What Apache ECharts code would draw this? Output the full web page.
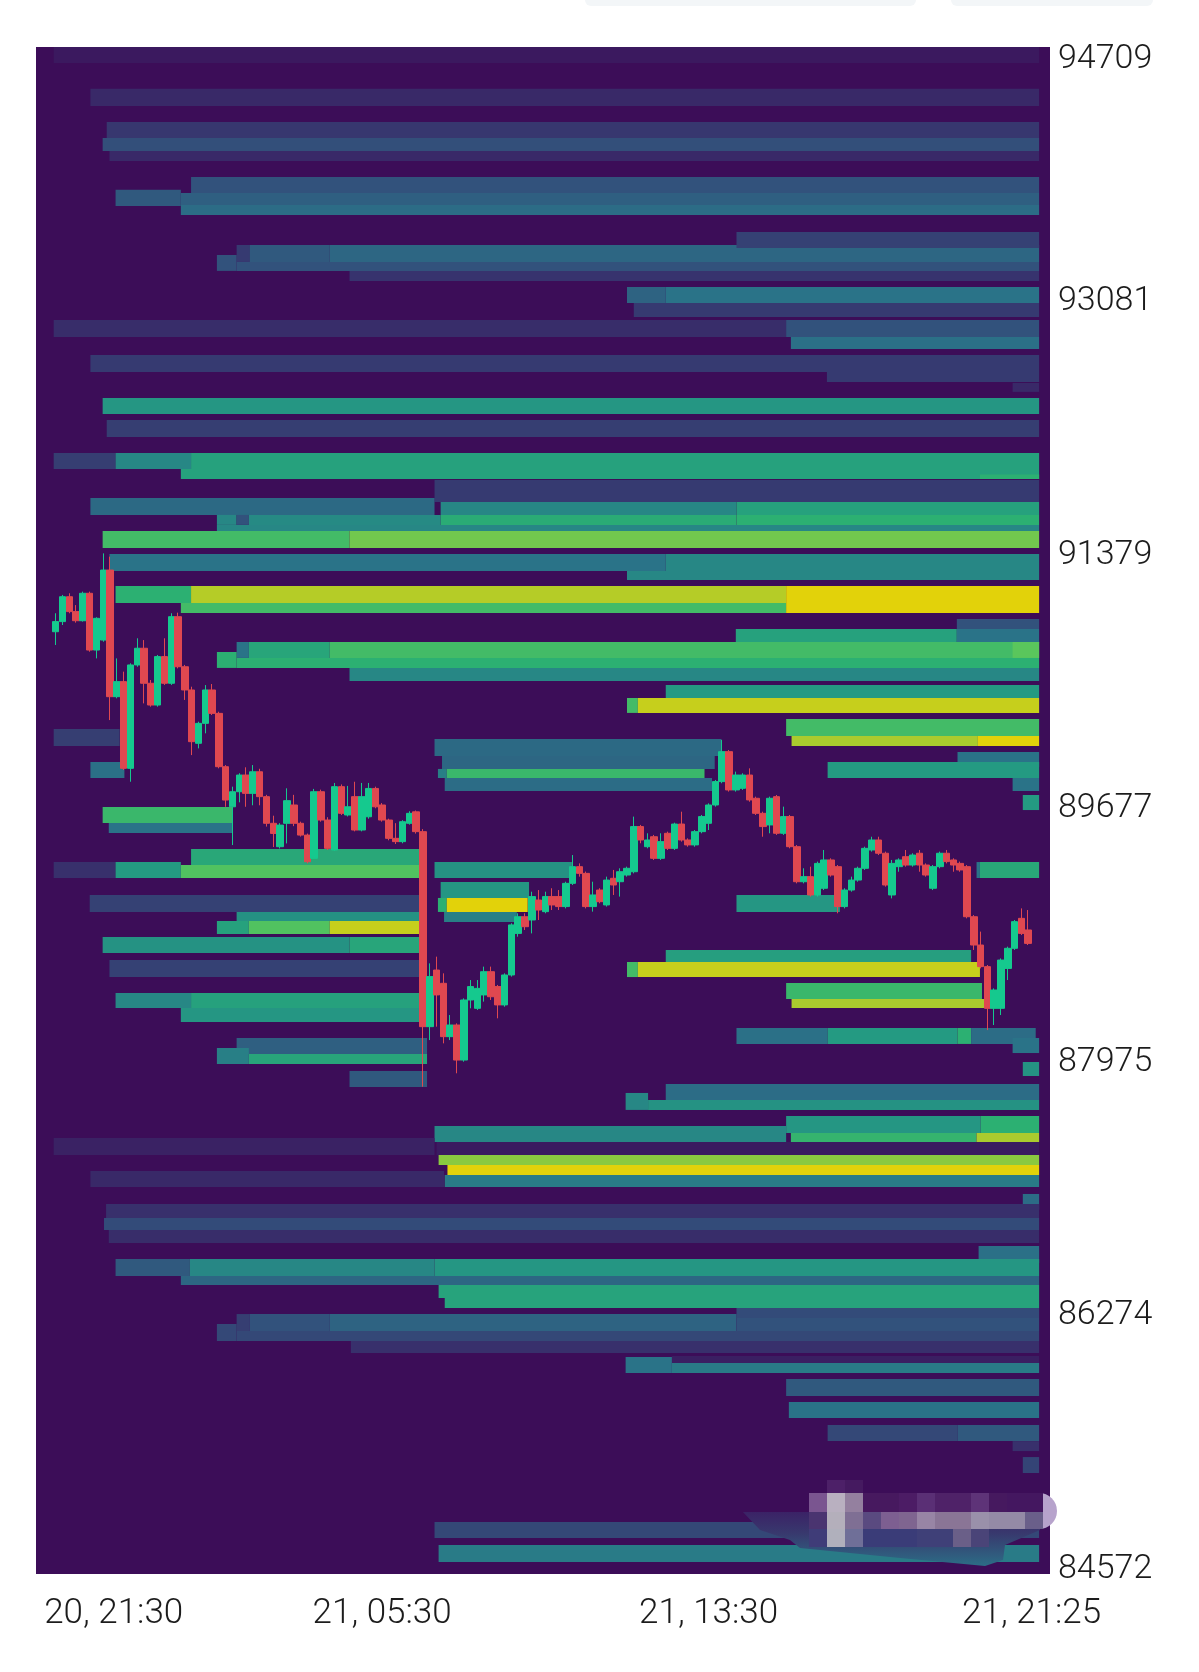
<!DOCTYPE html>
<html>
<head>
<meta charset="utf-8">
<title>Liquidation heatmap</title>
<script src="https://cdn.jsdelivr.net/npm/echarts@6/dist/echarts.min.js"></script>
<style>
    html, body { margin: 0; padding: 0; background: #fff; }
    #chart { width: 1199px; height: 1672px; }
</style>
</head>
<body>
<div id="chart"></div>
<script>
// x is minutes since 20, 21:30. bands: [from, to, priceLow, priceHigh, level 0-8]
const upperBands = [
    [-3, 1446, 94663, 94770, 0.35],
    [51, 1446, 94374, 94489, 0.8],
    [75, 1446, 94160, 94267, 1.2],
    [69, 1446, 94072, 94160, 1.9],
    [79, 1446, 94005, 94072, 0.8],
    [199, 1446, 93790, 93898, 2],
    [88, 184, 93703, 93811, 2.2],
    [184, 1446, 93710, 93790, 2.4],
    [184, 1446, 93643, 93710, 2.8],
    [266, 285, 93327, 93441, 1.3],
    [285, 403, 93327, 93441, 2.2],
    [403, 1446, 93327, 93441, 2.6],
    [1001, 1446, 93421, 93529, 1.5],
    [237, 266, 93267, 93374, 2],
    [266, 1446, 93267, 93327, 2],
    [432, 1446, 93200, 93267, 1.1],
    [840, 897, 93052, 93159, 2.5],
    [897, 1446, 93052, 93159, 3],
    [850, 1446, 92958, 93052, 1.3],
    [-3, 1074, 92824, 92938, 0.9],
    [1074, 1446, 92824, 92938, 2],
    [1081, 1446, 92743, 92824, 2.9],
    [51, 1446, 92589, 92703, 1.3],
    [1134, 1446, 92522, 92589, 1.3],
    [1407, 1446, 92455, 92515, 0.8],
    [69, 1446, 92307, 92414, 3.9],
    [75, 1446, 92152, 92267, 1.4],
    [-3, 88, 91938, 92045, 1.4],
    [88, 199, 91938, 92045, 3.5],
    [199, 1446, 91938, 92045, 4.3],
    [184, 1446, 91870, 91938, 4.3],
    [1359, 1446, 91870, 91900, 5],
    [557, 1446, 91716, 91864, 1.3],
    [51, 557, 91629, 91743, 2.7],
    [566, 1001, 91629, 91716, 3.5],
    [1001, 1446, 91629, 91716, 4.3],
    [237, 266, 91562, 91629, 3.5],
    [266, 284, 91562, 91629, 2],
    [284, 566, 91562, 91629, 3.6],
    [566, 1001, 91562, 91629, 4.8],
    [1001, 1446, 91562, 91629, 5],
    [237, 1446, 91521, 91562, 3.5],
    [69, 432, 91407, 91521, 5.5],
    [432, 1446, 91407, 91521, 6.3]
];

const middleBands = [
    [79, 897, 91253, 91367, 3],
    [897, 1446, 91253, 91367, 3.5],
    [840, 1446, 91193, 91253, 3.5],
    [88, 199, 91038, 91152, 5],
    [199, 1074, 91038, 91152, 7.2],
    [1074, 1446, 91038, 91152, 8],
    [184, 1074, 90971, 91038, 5.5],
    [1074, 1446, 90971, 91038, 8],
    [1325, 1446, 90864, 90931, 2],
    [1000, 1325, 90769, 90864, 4.3],
    [1325, 1446, 90769, 90864, 3],
    [266, 284, 90669, 90776, 3],
    [284, 403, 90669, 90776, 4.5],
    [403, 1446, 90669, 90776, 5.5],
    [1407, 1446, 90669, 90776, 6],
    [237, 266, 90602, 90709, 5],
    [266, 1446, 90602, 90669, 5],
    [432, 1446, 90514, 90602, 3.5],
    [897, 1446, 90400, 90488, 4],
    [840, 856, 90300, 90400, 5.5],
    [856, 1446, 90300, 90400, 7.5],
    [1074, 1446, 90145, 90259, 5.5],
    [1082, 1356, 90078, 90145, 7],
    [1356, 1446, 90078, 90145, 8],
    [1326, 1446, 89937, 90038, 3],
    [1135, 1446, 89863, 89971, 4],
    [1407, 1446, 89776, 89863, 3],
    [1422, 1446, 89648, 89749, 4],
    [-3, 94, 90078, 90192, 1.4],
    [51, 101, 89863, 89971, 2.9],
    [69, 260, 89561, 89669, 5.3],
    [78, 260, 89494, 89561, 3],
    [557, 979, 90011, 90125, 2.7],
    [568, 969, 89924, 90011, 2.6],
    [562, 575, 89863, 89924, 3.3],
    [575, 954, 89863, 89924, 5.3],
    [572, 965, 89776, 89863, 2.8],
    [199, 537, 89279, 89387, 4.6],
    [-3, 88, 89192, 89299, 1],
    [88, 184, 89192, 89299, 4],
    [184, 537, 89192, 89279, 5.8],
    [557, 759, 89192, 89299, 3.8],
    [1354, 1359, 89192, 89299, 3],
    [1359, 1446, 89192, 89299, 4.6],
    [50, 537, 88964, 89078, 1.5],
    [266, 537, 88903, 88964, 3.8],
    [237, 284, 88816, 88903, 4.3],
    [284, 403, 88816, 88903, 5.8],
    [403, 537, 88816, 88903, 7.5],
    [69, 432, 88689, 88796, 3.8],
    [432, 537, 88689, 88796, 4.5],
    [79, 537, 88527, 88642, 1.5],
    [88, 199, 88319, 88420, 3.5],
    [199, 537, 88319, 88420, 4.3],
    [184, 537, 88225, 88319, 3.9],
    [266, 546, 88010, 88118, 2.4],
    [237, 284, 87943, 88051, 3.3],
    [284, 546, 87943, 88010, 4.5],
    [432, 546, 87789, 87896, 2.2],
    [566, 696, 89058, 89165, 3.9],
    [562, 575, 88964, 89058, 5],
    [575, 694, 88964, 89058, 8],
    [571, 678, 88897, 88964, 3.3],
    [1001, 1153, 88964, 89078, 3.9],
    [897, 1346, 88628, 88709, 4.2],
    [840, 856, 88527, 88628, 5.5],
    [856, 1359, 88527, 88628, 7.5],
    [1074, 1362, 88380, 88487, 5.3],
    [1082, 1366, 88319, 88380, 7],
    [1001, 1135, 88078, 88185, 2.9],
    [1135, 1326, 88078, 88185, 4],
    [1326, 1346, 88078, 88185, 5],
    [1346, 1441, 88078, 88185, 2.8],
    [1407, 1446, 88017, 88118, 3],
    [1422, 1446, 87863, 87957, 3.8]
];

const lowerBands = [
    [897, 1446, 87702, 87809, 2.8],
    [838, 871, 87635, 87749, 3.5],
    [871, 1446, 87635, 87702, 3.8],
    [1074, 1360, 87480, 87594, 3.9],
    [1360, 1446, 87480, 87594, 5],
    [557, 1074, 87420, 87527, 3.5],
    [1081, 1354, 87420, 87480, 5.2],
    [1354, 1446, 87420, 87480, 7],
    [-3, 557, 87333, 87447, 0.6],
    [560, 1446, 87333, 87420, 0.4],
    [563, 1446, 87266, 87333, 6.6],
    [576, 1446, 87198, 87266, 8],
    [51, 571, 87118, 87225, 0.8],
    [572, 1446, 87118, 87198, 3.2],
    [1422, 1446, 86964, 87071, 2.8],
    [74, 1446, 86910, 87004, 1],
    [71, 1446, 86829, 86910, 1.8],
    [78, 1446, 86742, 86829, 0.9],
    [1357, 1446, 86607, 86722, 2.9],
    [88, 197, 86520, 86634, 2.2],
    [197, 557, 86520, 86634, 3.5],
    [557, 1446, 86520, 86634, 3.9],
    [184, 1446, 86460, 86520, 2.6],
    [563, 1446, 86373, 86460, 4.4],
    [572, 1446, 86305, 86373, 4.4],
    [1001, 1446, 86238, 86305, 1.8],
    [266, 285, 86151, 86265, 1.4],
    [285, 403, 86151, 86265, 2],
    [403, 1001, 86151, 86265, 2.5],
    [1001, 1446, 86151, 86238, 2],
    [237, 266, 86084, 86198, 1.7],
    [266, 1446, 86084, 86151, 1.7],
    [434, 1446, 86003, 86084, 1],
    [906, 1446, 85936, 85983, 0.5],
    [838, 906, 85869, 85976, 3],
    [906, 1446, 85869, 85936, 3.2],
    [1074, 1446, 85715, 85829, 2.2],
    [1078, 1446, 85567, 85674, 3],
    [1135, 1326, 85412, 85520, 1.7],
    [1326, 1446, 85412, 85520, 2.2],
    [1407, 1446, 85345, 85412, 1],
    [1422, 1446, 85198, 85305, 1.6],
    [557, 1446, 84761, 84869, 1.7],
    [563, 1446, 84600, 84715, 3.2]
];

// [minute, open, close, low, high]
const candles = [
    [0, 90845, 90913, 90756, 90969], [10, 90913, 91080, 90890, 91092], [20, 91080, 90980, 90969, 91103],
    [30, 90980, 90919, 90906, 91024], [40, 90919, 91103, 90913, 91114], [50, 91103, 90722, 90711, 91114],
    [60, 90722, 90935, 90666, 90942], [70, 90789, 91259, 90778, 91371], [80, 91259, 90409, 90252, 91349],
    [90, 90409, 90510, 90398, 90666], [100, 90510, 89928, 89917, 90577], [110, 89928, 90622, 89838, 90633],
    [120, 90622, 90734, 90610, 90801], [130, 90734, 90499, 90364, 90789], [140, 90499, 90353, 90342, 90521],
    [150, 90353, 90678, 90342, 90689], [160, 90678, 90499, 90488, 90801], [170, 90499, 90946, 90488, 90969],
    [180, 90946, 90610, 90599, 90973], [190, 90610, 90454, 90387, 90622], [200, 90454, 90107, 90017, 90476],
    [210, 90096, 90230, 90062, 90241], [220, 90230, 90454, 90163, 90487], [230, 90454, 90297, 90286, 90494],
    [240, 90297, 89939, 89928, 90308], [250, 89939, 89715, 89670, 89950], [260, 89670, 89771, 89413, 89805],
    [270, 89771, 89883, 89700, 89895], [280, 89883, 89760, 89670, 89935], [290, 89760, 89905, 89680, 89950],
    [300, 89905, 89738, 89680, 89925], [310, 89738, 89559, 89537, 89750], [320, 89559, 89491, 89400, 89610],
    [330, 89402, 89547, 89390, 89560], [340, 89559, 89711, 89424, 89794], [350, 89682, 89559, 89540, 89750],
    [360, 89559, 89480, 89470, 89570], [370, 89480, 89301, 89290, 89490], [380, 89324, 89771, 89320, 89790],
    [390, 89771, 89581, 89570, 89785], [400, 89581, 89391, 89380, 89600], [410, 89380, 89805, 89375, 89830],
    [420, 89805, 89626, 89615, 89820], [430, 89615, 89670, 89605, 89810], [440, 89738, 89514, 89505, 89838],
    [450, 89514, 89738, 89505, 89830], [460, 89603, 89793, 89590, 89830], [470, 89793, 89670, 89660, 89805],
    [480, 89682, 89581, 89570, 89695], [490, 89581, 89458, 89445, 89590], [500, 89458, 89436, 89420, 89560],
    [510, 89436, 89570, 89425, 89580], [520, 89559, 89626, 89550, 89640], [530, 89636, 89503, 89490, 89645],
    [540, 89503, 88194, 87791, 89520], [550, 88194, 88530, 88104, 88619], [560, 88574, 88407, 88194, 88664],
    [570, 88485, 88127, 88082, 88552], [580, 88127, 88205, 88104, 88272], [590, 88205, 87970, 87881, 88216],
    [600, 87970, 88373, 87959, 88384], [610, 88373, 88463, 88317, 88507], [620, 88317, 88451, 88306, 88507],
    [630, 88407, 88563, 88362, 88597], [640, 88563, 88395, 88373, 88597], [650, 88463, 88340, 88250, 88474],
    [660, 88340, 88541, 88328, 88552], [670, 88541, 88877, 88530, 88888], [680, 88820, 88932, 88798, 88955],
    [690, 88932, 88865, 88843, 88955], [700, 88910, 89067, 88820, 89100], [710, 89044, 88977, 88910, 89111],
    [720, 88966, 89067, 88955, 89100], [730, 89067, 89011, 88977, 89123], [740, 89067, 89000, 88977, 89111],
    [750, 89000, 89156, 88988, 89167], [760, 89156, 89268, 89145, 89346], [770, 89268, 89223, 89201, 89290],
    [780, 89223, 89000, 88988, 89235], [790, 89000, 89078, 88966, 89167], [800, 89111, 89033, 89022, 89123],
    [810, 89011, 89178, 89000, 89201], [820, 89190, 89145, 89078, 89246], [830, 89167, 89234, 89067, 89257],
    [840, 89212, 89257, 89201, 89268], [850, 89234, 89537, 89223, 89604], [860, 89537, 89447, 89425, 89548],
    [870, 89402, 89447, 89391, 89492], [880, 89469, 89324, 89313, 89481], [890, 89324, 89436, 89313, 89492],
    [900, 89492, 89391, 89380, 89503], [910, 89391, 89554, 89380, 89563], [920, 89554, 89447, 89436, 89637],
    [930, 89447, 89414, 89402, 89458], [940, 89414, 89503, 89402, 89514], [950, 89503, 89604, 89492, 89615],
    [960, 89559, 89682, 89514, 89693], [970, 89682, 89839, 89671, 89850], [980, 89839, 90040, 89828, 90118],
    [990, 90040, 89783, 89772, 90051], [1000, 89783, 89883, 89772, 89906], [1010, 89794, 89883, 89783, 89895],
    [1020, 89883, 89716, 89704, 89928], [1030, 89727, 89626, 89615, 89738], [1040, 89626, 89537, 89469, 89637],
    [1050, 89548, 89727, 89492, 89738], [1060, 89738, 89492, 89481, 89749], [1070, 89492, 89604, 89481, 89671],
    [1080, 89604, 89402, 89391, 89615], [1090, 89402, 89167, 89156, 89413], [1100, 89167, 89201, 89156, 89257],
    [1110, 89201, 89078, 89067, 89268], [1120, 89078, 89290, 89067, 89302], [1130, 89123, 89313, 89111, 89380],
    [1140, 89313, 89212, 89201, 89324], [1150, 89268, 89000, 88955, 89279], [1160, 89000, 89111, 88988, 89123],
    [1170, 89111, 89178, 89100, 89201], [1180, 89178, 89257, 89167, 89268], [1190, 89257, 89391, 89246, 89402],
    [1200, 89380, 89447, 89369, 89469], [1210, 89447, 89358, 89346, 89469], [1220, 89358, 89145, 89134, 89369],
    [1230, 89078, 89290, 89055, 89313], [1240, 89268, 89313, 89234, 89324], [1250, 89335, 89279, 89268, 89380],
    [1260, 89279, 89346, 89268, 89358], [1270, 89358, 89279, 89234, 89380], [1280, 89279, 89212, 89201, 89290],
    [1290, 89123, 89268, 89111, 89279], [1300, 89268, 89358, 89257, 89369], [1310, 89358, 89302, 89290, 89380],
    [1320, 89313, 89279, 89234, 89324], [1330, 89290, 89246, 89234, 89302], [1340, 89268, 88932, 88921, 89279],
    [1350, 88932, 88742, 88709, 88943], [1360, 88742, 88597, 88585, 88832], [1370, 88597, 88317, 88171, 88608],
    [1380, 88317, 88440, 88205, 88451], [1390, 88317, 88641, 88272, 88652], [1400, 88585, 88720, 88507, 88731],
    [1410, 88720, 88899, 88709, 88910], [1420, 88921, 88820, 88809, 88988], [1430, 88843, 88753, 88742, 88977]
];

const priceTicks = [84572, 86274, 87975, 89677, 91379, 93081, 94709];
const timeTicks = [0, 480, 960, 1435];
const timeLabels = ['20, 21:30', '21, 05:30', '21, 13:30', '21, 21:25'];

const levelColors = ['#3c0d58', '#38306c', '#32527c', '#2a7388', '#249a82', '#2cb072', '#5ac65c', '#aacb2e', '#e2d20a'];

// mosaic patch over the bottom right of the picture, one list per row
const mosaicRows = [
    { y: 1480, h: 13, cells: [null, '#4d2068', '#451a60'] },
    { y: 1493, h: 19, cells: ['#7a5590', '#b9b0c0', '#94809f', '#47195f', '#47195f', '#4c1c65', '#5a2f75', '#4f2268', '#4f2268', '#5e3378', '#46195f', '#441760', '#441760'] },
    { y: 1512, h: 17, cells: ['#4a3470', '#b4afbb', '#7f6f94', '#5a4a80', '#7d5f91', '#7f6590', '#9885a5', '#8a7596', '#8a7596', '#9a90aa', '#948aa6', '#948aa6', '#6a5f8a'] },
    { y: 1529, h: 18, cells: ['#3f3c78', '#b0b0bc', '#6f6f98', '#3a3c78', '#3a3c78', '#3a3c78', '#3f4078', '#3f4078', '#6a5f88', '#4a4478'] }
];

const mosaic = [];
mosaic.push({
    type: 'polygon', z: 100,
    shape: { points: [[743, 1512], [1040, 1512], [1040, 1530], [1005, 1545], [1003, 1560], [985, 1566], [900, 1558], [800, 1548], [790, 1540], [760, 1530]] },
    style: {
        fill: new echarts.graphic.LinearGradient(0, 0, 0, 1, [
            { offset: 0, color: '#3b2266' },
            { offset: 0.4, color: '#38396e' },
            { offset: 1, color: '#2c6d86' }
        ])
    }
});
mosaicRows.forEach(function (row) {
    row.cells.forEach(function (color, i) {
        if (!color) return;
        mosaic.push({
            type: 'rect', z: 101,
            shape: { x: 809 + i * 18, y: row.y, width: 18, height: row.h },
            style: { fill: color }
        });
    });
});
mosaic.push({
    type: 'circle', z: 100,
    shape: { cx: 1039, cy: 1511, r: 18 },
    style: { fill: '#b7a3cc' }
});
mosaic.push({ type: 'rect', z: 99, shape: { x: 585, y: -6, width: 331, height: 12, r: 6 }, style: { fill: '#f3f6f8' } });
mosaic.push({ type: 'rect', z: 99, shape: { x: 951, y: -6, width: 202, height: 12, r: 6 }, style: { fill: '#f3f6f8' } });

function renderBand(params, api) {
    const a = api.coord([api.value(0), api.value(3)]);
    const b = api.coord([api.value(1), api.value(2)]);
    return {
        type: 'rect',
        shape: { x: a[0], y: a[1], width: b[0] - a[0], height: b[1] - a[1] },
        style: { fill: api.visual('color') }
    };
}

const chart = echarts.init(document.getElementById('chart'));
chart.setOption({
    animation: false,
    textStyle: { fontFamily: 'Roboto' },
    graphic: mosaic,
    grid: {
        left: 36, right: 149, top: 47, bottom: 98,
        show: true, backgroundColor: '#3c0d58', borderWidth: 0
    },
    visualMap: {
        type: 'continuous', show: false, seriesIndex: 0, dimension: 4,
        min: 0, max: 8,
        inRange: { color: levelColors }
    },
    xAxis: {
        type: 'value', min: -29, max: 1462,
        splitLine: { show: false },
        axisLine: { show: false },
        axisTick: { show: false },
        axisLabel: {
            customValues: timeTicks,
            margin: 23,
            color: '#1c1c1c',
            fontSize: 35,
            fontWeight: 300,
            fontFamily: 'Roboto',
            formatter: function (v) {
                const text = timeLabels[timeTicks.indexOf(v)];
                return v === 0 ? '{first|' + text + '}' : text;
            },
            rich: {
                first: { padding: [0, 0, 0, 116], color: '#1c1c1c', fontSize: 35, fontWeight: 300, fontFamily: 'Roboto' }
            }
        }
    },
    yAxis: {
        type: 'value', position: 'right', min: 84520, max: 94770,
        splitLine: { show: false },
        axisLine: { show: false },
        axisTick: { show: false },
        axisLabel: {
            customValues: priceTicks,
            margin: 8,
            formatter: function (v) {
                return '{price|' + v + '}';
            },
            rich: {
                price: { padding: [6, 0, 0, 0], color: '#1c1c1c', fontSize: 34, fontWeight: 300, fontFamily: 'Roboto' }
            }
        }
    },
    series: [
        {
            type: 'custom',
            renderItem: renderBand,
            encode: { x: [0, 1], y: [2, 3] },
            data: upperBands.concat(middleBands, lowerBands)
        },
        {
            type: 'candlestick',
            barWidth: 7,
            encode: { x: 0, y: [1, 2, 3, 4] },
            itemStyle: {
                color: '#15c98e',
                color0: '#e04850',
                borderColor: '#15c98e',
                borderColor0: '#e04850',
                borderWidth: 1
            },
            data: candles
        }
    ]
});
</script>
</body>
</html>
